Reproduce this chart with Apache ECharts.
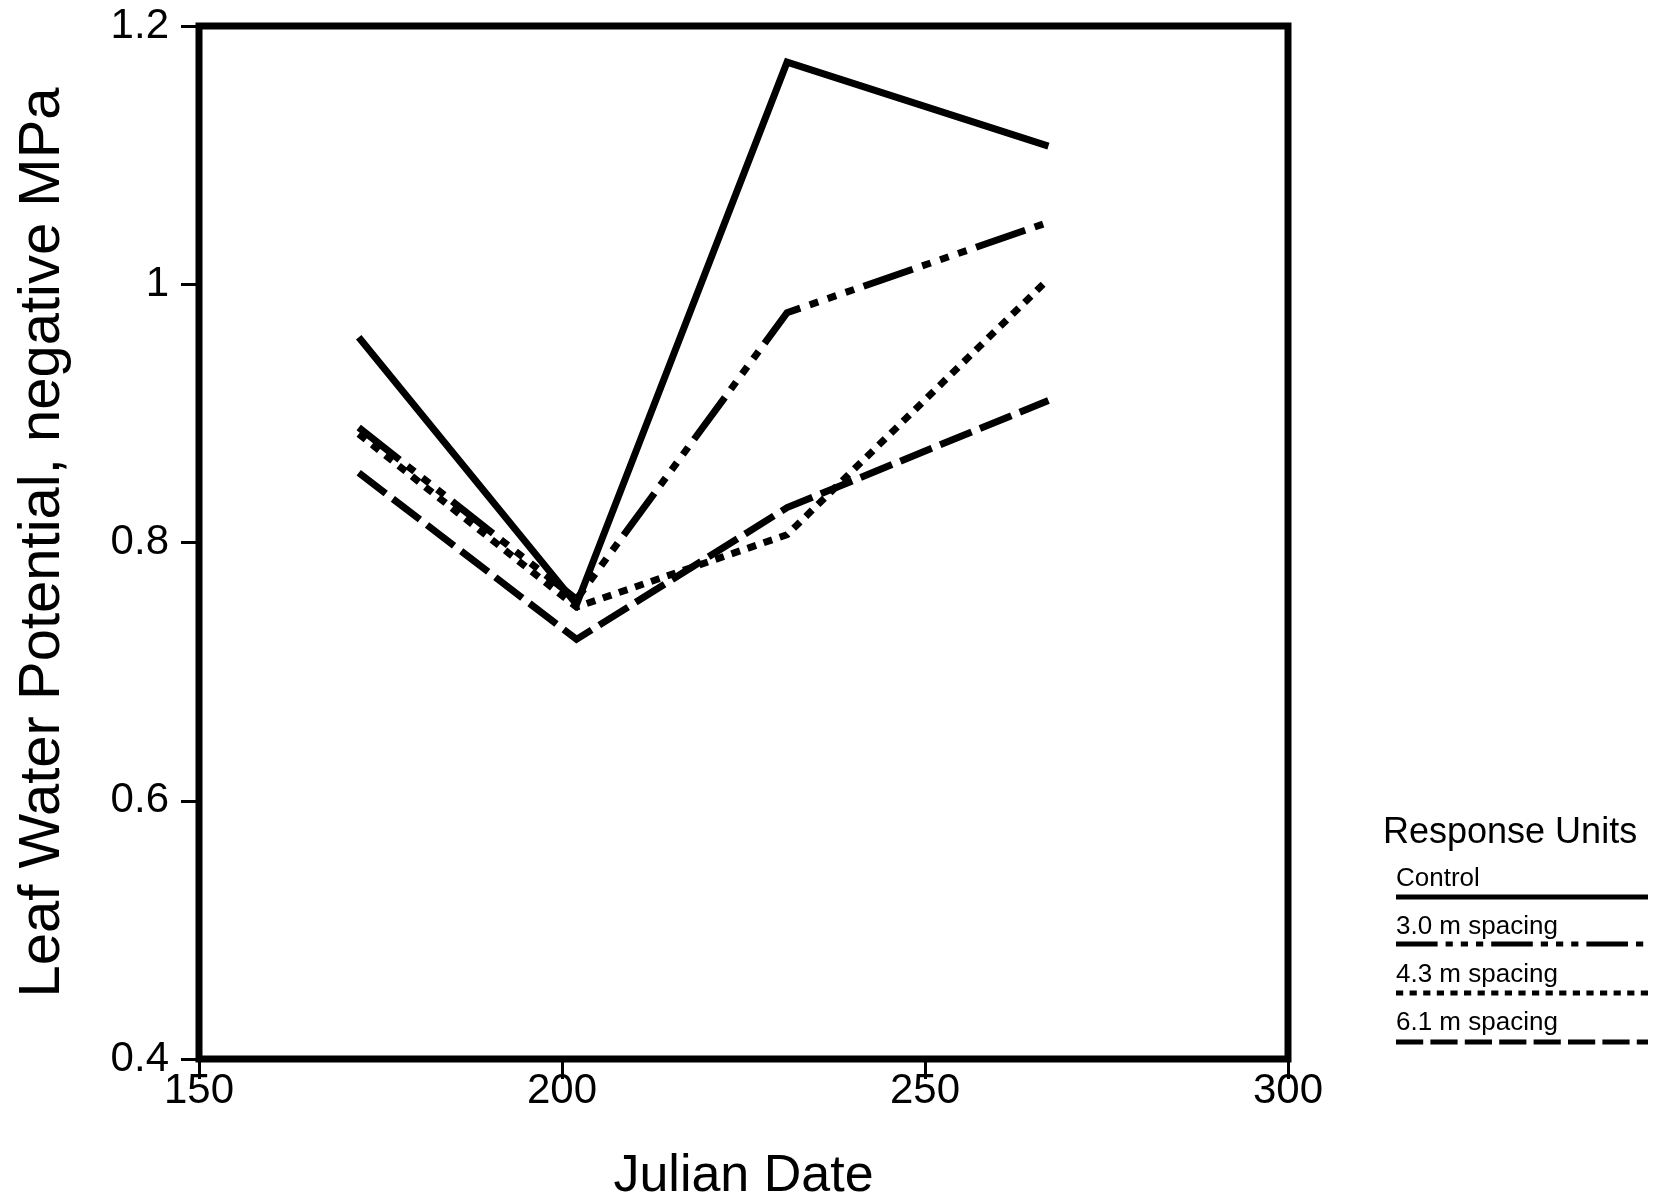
<!DOCTYPE html>
<html>
<head>
<meta charset="utf-8">
<script src="https://cdn.jsdelivr.net/npm/echarts@6/dist/echarts.min.js"></script>
<style>
html,body{margin:0;padding:0;background:#fff;}
#chart{width:1658px;height:1204px;}
</style>
</head>
<body>
<div id="chart"></div>
<script>
// ---- data ----
const julianDates = [172, 202, 231, 267];
const controlVals = [0.959, 0.752, 1.172, 1.107];
const sp30Vals = [0.889, 0.756, 0.978, 1.048];
const sp43Vals = [0.884, 0.750, 0.806, 1.004];
const sp61Vals = [0.854, 0.725, 0.827, 0.910];
const seriesNames = ['Control', '3.0 m spacing', '4.3 m spacing', '6.1 m spacing'];
const legendLabels = ['Control', '3.0 m spacing', '4.3 m spacing', '6.1 m spacing'];
const legendTitle = 'Response Units';
const xTitle = 'Julian Date';
const yTitle = 'Leaf Water Potential, negative MPa';

const FONT = 'Liberation Sans';
const dashes = [
  'solid',
  [52, 10, 9, 10, 9, 10, 9, 10],
  [9, 8],
  [34, 9]
];
const allVals = [controlVals, sp30Vals, sp43Vals, sp61Vals];

function pairs(vals){ return julianDates.map((d,i)=>[d, vals[i]]); }

const chart = echarts.init(document.getElementById('chart'));

const series = allVals.map((vals, i) => ({
  name: seriesNames[i],
  type: 'line',
  data: pairs(vals),
  showSymbol: false,
  symbol: 'none',
  animation: false,
  lineStyle: { color: '#000', width: 7, type: dashes[i], cap: 'butt', join: 'miter' }
}));

// legend built as graphics
const graphics = [{
  type: 'text',
  style: { x: 1383, y: 833, text: legendTitle, font: '36px "' + FONT + '"', fill: '#000', verticalAlign: 'middle' }
}];
const rowText = [879, 927, 975, 1023];
const rowLine = [897, 944, 993, 1042];
legendLabels.forEach((lab, i) => {
  graphics.push({
    type: 'text',
    style: { x: 1396, y: rowText[i], text: lab, font: '26px "' + FONT + '"', fill: '#000', verticalAlign: 'middle' }
  });
  graphics.push({
    type: 'line',
    shape: { x1: 1396, y1: rowLine[i], x2: 1648, y2: rowLine[i] },
    style: { stroke: '#000', lineWidth: 5, lineDash: dashes[i] === 'solid' ? null : dashes[i].map(v=>v*0.8), lineCap: 'butt' }
  });
});

chart.setOption({
  animation: false,
  backgroundColor: '#fff',
  grid: {
    left: 199, top: 26, right: 370, bottom: 145,
    containLabel: false, outerBoundsMode: 'none',
    show: true, borderColor: '#000', borderWidth: 7, backgroundColor: 'transparent'
  },
  xAxis: {
    type: 'value', min: 150, max: 300, interval: 50,
    name: xTitle, nameLocation: 'middle', nameGap: 92,
    nameTextStyle: { fontFamily: FONT, fontSize: 52, color: '#000' },
    axisLine: { show: false },
    axisTick: { show: true, length: 20, lineStyle: { color: '#000', width: 3 } },
    axisLabel: { fontFamily: FONT, fontSize: 42, color: '#000', margin: 11 },
    splitLine: { show: false }
  },
  yAxis: {
    type: 'value', min: 0.4, max: 1.2, interval: 0.2,
    name: yTitle, nameLocation: 'middle', nameGap: 127,
    nameTextStyle: { fontFamily: FONT, fontSize: 58, color: '#000' },
    axisLine: { show: false },
    axisTick: { show: true, length: 18, lineStyle: { color: '#000', width: 3 } },
    axisLabel: { fontFamily: FONT, fontSize: 42, color: '#000', margin: 30,
      formatter: v => String(Math.round(v*10)/10) },
    splitLine: { show: false }
  },
  series: series,
  graphic: graphics
});
</script>
</body>
</html>
